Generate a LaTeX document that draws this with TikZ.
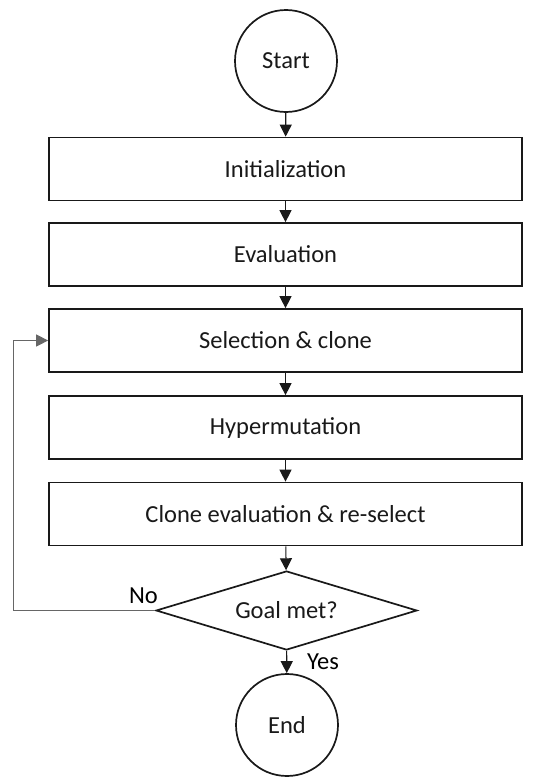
\documentclass[tikz,border=0pt]{standalone}
\usepackage{fontspec}
\setmainfont{Carlito}
\usetikzlibrary{arrows.meta,shapes.geometric}
\tikzset{
    line color/.style={black!90},
    terminal/.style={circle,draw,line color,line width=1.7pt,minimum size=102pt,inner sep=0pt},
    process/.style={rectangle,draw,line color,line width=1.7pt,minimum width=473pt,minimum height=63pt},
    decision/.style={diamond,draw,line color,line width=1.7pt,shape aspect=3.3,minimum width=261pt,minimum height=79pt,inner sep=0pt},
    arr/.style={-{Triangle[length=12pt,width=12pt]},line width=1.1pt,line color},
    back arr/.style={arr,black!60,line width=1pt},
}
\tikzstyle{every node}=[font=\fontsize{24.5pt}{29pt}\selectfont]

\begin{document}
\begin{tikzpicture}[x=1pt,y=-1pt]
    \useasboundingbox[fill=white] (0,0) rectangle (533,779);

    % terminals and steps
    \node[terminal] (start) at (286,61) {Start};
    \node[process] (init) at (285.5,169) {Initialization};
    \node[process] (eval) at (285.5,254.5) {Evaluation};
    \node[process] (sel) at (285.5,340.5) {Selection \& clone};
    \node[process] (hyp) at (285.5,427.5) {Hypermutation};
    \node[process] (reeval) at (285.5,514) {Clone evaluation \& re-select};
    \node[decision] (goal) at (286.5,610.5) {Goal met?};
    \node[terminal] (end) at (287,725) {End};

    \draw[arr] (start) -- (init);
    \draw[arr] (init) -- (eval);
    \draw[arr] (eval) -- (sel);
    \draw[arr] (sel) -- (hyp);
    \draw[arr] (hyp) -- (reeval);
    \draw[arr] (reeval) -- (goal);
    \draw[arr] (goal) -- (end);

    % loop back
    \coordinate (corner) at (13,610.5);
    \draw[back arr] (goal.west) -- (corner) |- (sel.west);

    \node (no) at (143.5,596) {No};
    \node (yes) at (323,662) {Yes};
\end{tikzpicture}
\end{document}
